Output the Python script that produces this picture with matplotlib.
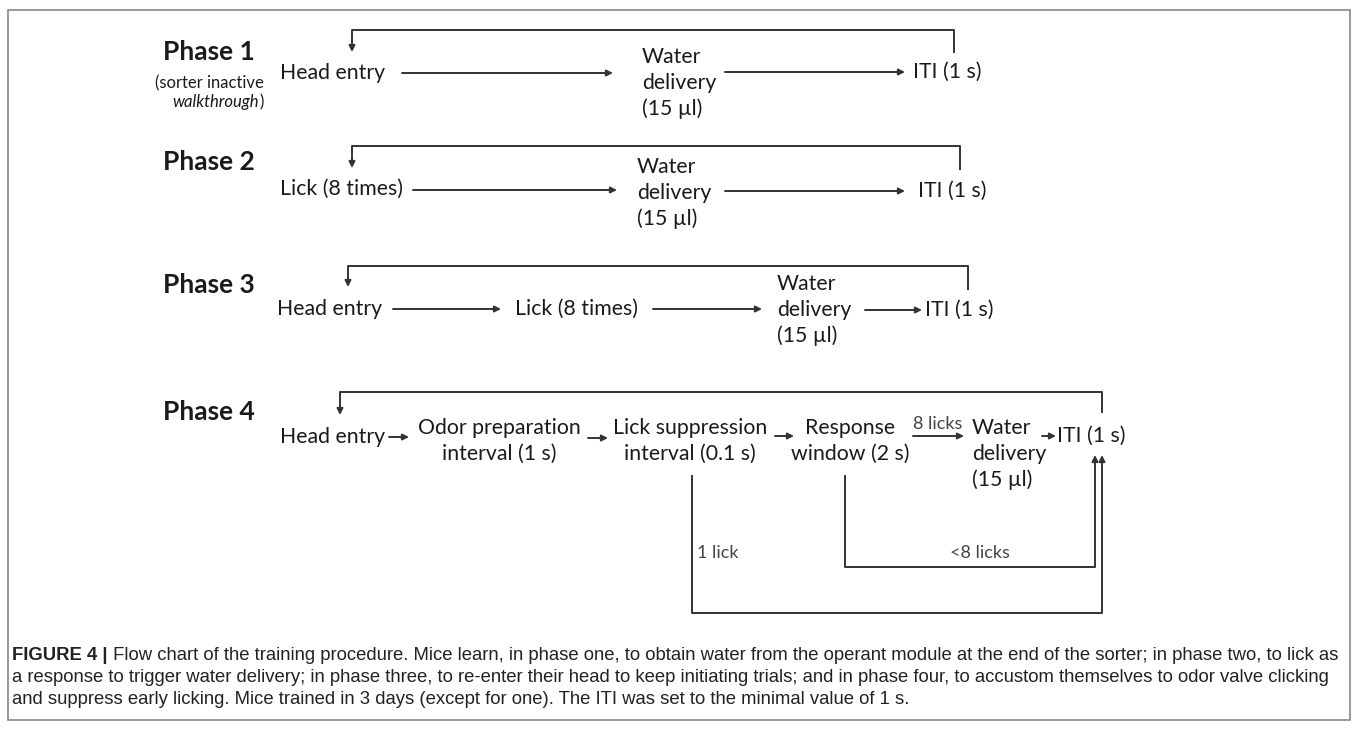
import matplotlib.pyplot as plt
from matplotlib.patches import Rectangle

plt.rcParams['font.family'] = ['Lato', 'DejaVu Sans']

W, H = 1358, 729

phase_titles = ['Phase 1', 'Phase 2', 'Phase 3', 'Phase 4']
phase1_note = '(sorter inactive'
phase1_note_it = 'walkthrough'
phase1_nodes = ['Head entry', 'Water\ndelivery\n(15 µl)', 'ITI (1 s)']
phase2_nodes = ['Lick (8 times)', 'Water\ndelivery\n(15 µl)', 'ITI (1 s)']
phase3_nodes = ['Head entry', 'Lick (8 times)', 'Water\ndelivery\n(15 µl)', 'ITI (1 s)']
phase4_nodes = ['Head entry', 'Odor preparation\ninterval (1 s)',
                'Lick suppression\ninterval (0.1 s)', 'Response\nwindow (2 s)',
                'Water\ndelivery\n(15 µl)', 'ITI (1 s)']
edge_labels = ['8 licks', '1 lick', '<8 licks']
caption_head = 'FIGURE 4 |'
caption_lines = [
    ' Flow chart of the training procedure. Mice learn, in phase one, to obtain water from the operant module at the end of the sorter; in phase two, to lick as',
    'a response to trigger water delivery; in phase three, to re-enter their head to keep initiating trials; and in phase four, to accustom themselves to odor valve clicking',
    'and suppress early licking. Mice trained in 3 days (except for one). The ITI was set to the minimal value of 1 s.',
]

TXT = '#1a1a1a'
LN = '#333333'
NODE_FS = 15.3
TITLE_FS = 19
EDGE_FS = 13
CAP_FS = 13.3

fig = plt.figure(figsize=(W / 100, H / 100), dpi=100)
ax = fig.add_axes([0, 0, 1, 1])
ax.set_xlim(0, W)
ax.set_ylim(H, 0)
ax.axis('off')


def arrow(x0, y0, x1, y1):
    ax.annotate('', xy=(x1, y1), xytext=(x0, y0),
                arrowprops=dict(arrowstyle='-|>', color=LN, lw=1.4,
                                mutation_scale=9, shrinkA=0, shrinkB=0))


def line(xs, ys):
    ax.plot(xs, ys, color=LN, lw=1.4, solid_capstyle='butt')


def loop(xl, xr, ytop, yl, yr):
    # return path from ITI back to the first node
    line([xr, xr, xl], [yr, ytop, ytop])
    arrow(xl, ytop, xl, yl)


def node(x, y, s, ha='left', ma='left'):
    ax.text(x, y, s, fontsize=NODE_FS, color=TXT, ha=ha, va='center',
            multialignment=ma, linespacing=1.36)


# border
ax.add_patch(Rectangle((8, 10), 1342, 710, fill=False, ec='#888888', lw=1.2))

# phase titles
title_y = [52, 162, 285, 412]
for t, y in zip(phase_titles, title_y):
    ax.text(209, y, t, fontsize=TITLE_FS, fontweight='bold', color=TXT,
            ha='center', va='center')
ax.text(209, 83, phase1_note, fontsize=12, color=TXT, ha='center', va='center')
ax.text(259, 102, phase1_note_it, fontsize=12, color=TXT, ha='right',
        va='center', style='italic')
ax.text(259, 102, ')', fontsize=12, color=TXT, ha='left', va='center')

# phase 1
node(280, 73, phase1_nodes[0])
arrow(402, 73, 613, 73)
node(642, 83, phase1_nodes[1])
arrow(725, 72, 905, 72)
node(913, 72, phase1_nodes[2])
loop(352, 954, 30, 52, 53)

# phase 2
node(280, 189, phase2_nodes[0])
arrow(413, 190, 617, 190)
node(637, 193, phase2_nodes[1])
arrow(725, 191, 905, 191)
node(918, 191, phase2_nodes[2])
loop(352, 960, 146, 168, 170)

# phase 3
node(277, 309, phase3_nodes[0])
arrow(393, 309, 501, 309)
node(515, 309, phase3_nodes[1])
arrow(653, 309, 762, 309)
node(777, 310, phase3_nodes[2])
arrow(865, 310, 922, 310)
node(925, 310, phase3_nodes[3])
loop(348, 968, 266, 287, 290)

# phase 4
node(280, 437, phase4_nodes[0])
arrow(389, 437, 409, 437)
node(499, 441, phase4_nodes[1], ha='center', ma='center')
arrow(588, 438, 608, 438)
node(690, 441, phase4_nodes[2], ha='center', ma='center')
arrow(775, 436, 794, 436)
node(850, 441, phase4_nodes[3], ha='center', ma='center')
ax.text(938, 424, edge_labels[0], fontsize=EDGE_FS, color='#444444',
        ha='center', va='center')
arrow(913, 436, 964, 436)
node(972, 454, phase4_nodes[4])
arrow(1042, 436, 1056, 436)
node(1057, 436, phase4_nodes[5])
loop(340, 1102, 392, 415, 413)

# failure branches back to ITI
line([692, 692, 1102], [475, 613, 613])
arrow(1102, 613, 1102, 455)
line([845, 845, 1095], [475, 567, 567])
arrow(1095, 567, 1095, 455)
ax.text(697, 553, edge_labels[1], fontsize=EDGE_FS, color='#444444',
        ha='left', va='center')
ax.text(980, 553, edge_labels[2], fontsize=EDGE_FS, color='#444444',
        ha='center', va='center')

# caption
cap_font = ['Liberation Sans', 'DejaVu Sans']
cap_y = [656, 678, 700]
head = ax.text(12, cap_y[0], caption_head, fontsize=CAP_FS, fontweight='bold',
               color='#222222', family=cap_font, va='center', ha='left')
ax.annotate(caption_lines[0], xy=(1, 0.5), xycoords=head, fontsize=CAP_FS,
            color='#222222', family=cap_font, va='center', ha='left')
for s, y in zip(caption_lines[1:], cap_y[1:]):
    ax.text(12, y, s, fontsize=CAP_FS, color='#222222', family=cap_font,
            va='center', ha='left')

fig.savefig('out.png', dpi=100)
